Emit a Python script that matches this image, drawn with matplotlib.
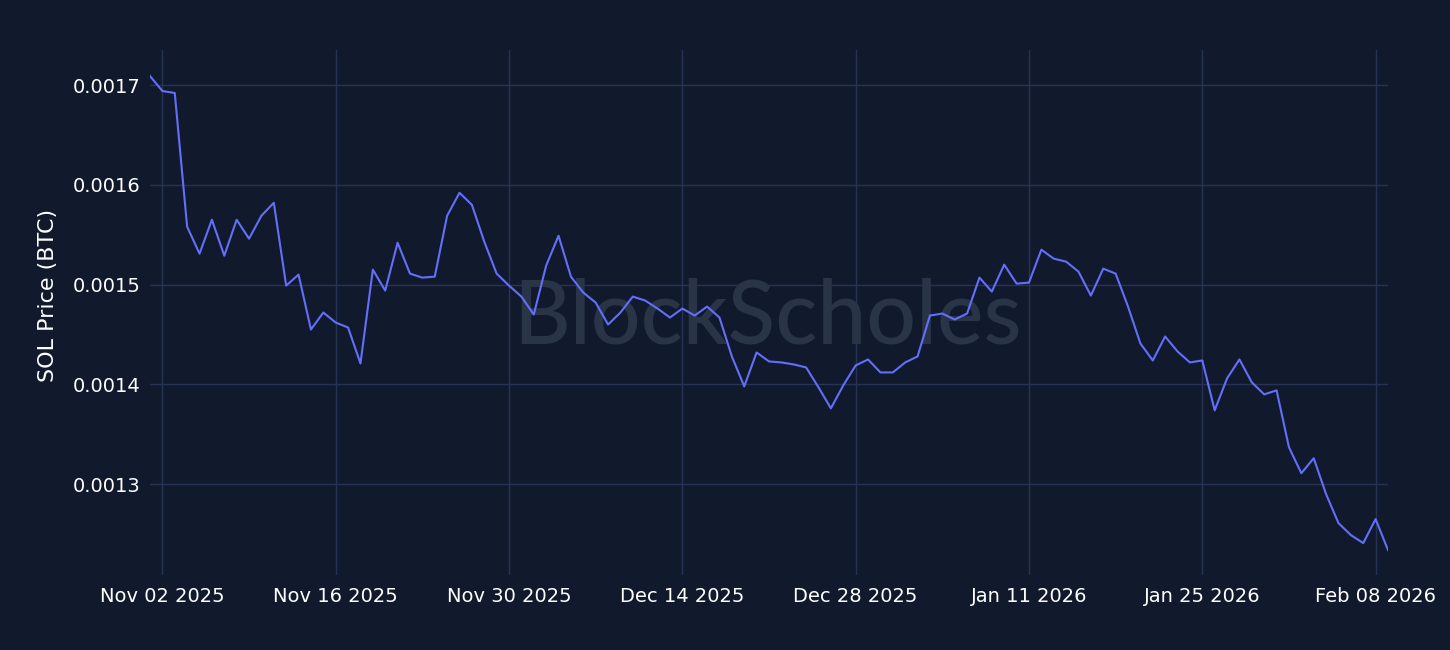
import matplotlib
matplotlib.use("Agg")
import matplotlib.pyplot as plt
import matplotlib.dates as mdates
import numpy as np
import pandas as pd

start_date = "2025-11-01"
sol_btc = [
    0.001709, 0.001694, 0.001692, 0.001558, 0.001531, 0.001565, 0.001529, 0.001565,
    0.001546, 0.001569, 0.001582, 0.001499, 0.001510, 0.001455, 0.001472, 0.001462,
    0.001457, 0.001421, 0.001515, 0.001494, 0.001542, 0.001511, 0.001507, 0.001508,
    0.001569, 0.001592, 0.001580, 0.001543, 0.001511, 0.001499, 0.001488, 0.001470,
    0.001519, 0.001549, 0.001508, 0.001492, 0.001482, 0.001460, 0.001472, 0.001488,
    0.001484, 0.001476, 0.001467, 0.001476, 0.001469, 0.001478, 0.001467, 0.001428,
    0.001398, 0.001432, 0.001423, 0.001422, 0.001420, 0.001417, 0.001397, 0.001376,
    0.001399, 0.001419, 0.001425, 0.001412, 0.001412, 0.001422, 0.001428, 0.001469,
    0.001471, 0.001465, 0.001471, 0.001507, 0.001493, 0.001520, 0.001501, 0.001502,
    0.001535, 0.001526, 0.001523, 0.001513, 0.001489, 0.001516, 0.001511, 0.001478,
    0.001441, 0.001424, 0.001448, 0.001433, 0.001422, 0.001424, 0.001374, 0.001406,
    0.001425, 0.001402, 0.001390, 0.001394, 0.001337, 0.001311, 0.001326, 0.001290,
    0.001261, 0.001249, 0.001241, 0.001265, 0.001234,
]
dates = pd.date_range(start_date, periods=len(sol_btc), freq="D")

x_tick_dates = ["2025-11-02", "2025-11-16", "2025-11-30", "2025-12-14",
                "2025-12-28", "2026-01-11", "2026-01-25", "2026-02-08"]
y_ticks = [0.0013, 0.0014, 0.0015, 0.0016, 0.0017]
y_tick_labels = ["0.0013", "0.0014", "0.0015", "0.0016", "0.0017"]

BG = "#111a2d"
GRID = "#263352"
LINE = "#636efa"
TXT = "#ffffff"

fig = plt.figure(figsize=(14.5, 6.5), dpi=100, facecolor=BG)
ax = fig.add_axes([150 / 1450, 75 / 650, 1238 / 1450, 525 / 650])
ax.set_facecolor(BG)

ax.plot(dates, sol_btc, color=LINE, linewidth=1.5, zorder=3)

ax.set_xlim(dates[0], dates[-1])
ax.set_ylim(0.001209, 0.0017351)

ax.set_xticks(pd.to_datetime(x_tick_dates))
ax.xaxis.set_major_formatter(mdates.DateFormatter("%b %d %Y"))
ax.set_yticks(y_ticks)
ax.set_yticklabels(y_tick_labels)

ax.grid(True, color=GRID, linewidth=1, zorder=1)
for s in ax.spines.values():
    s.set_visible(False)
ax.tick_params(axis="both", colors=TXT, labelsize=14, length=0)
ax.tick_params(axis="x", pad=9)
ax.tick_params(axis="y", pad=7)
ax.set_ylabel("SOL Price (BTC)", color=TXT, fontsize=16, va="center")
ax.yaxis.set_label_coords(-0.0824, 0.533)

ax.text(0.499, 0.49, "BlockScholes", transform=ax.transAxes, ha="center", va="center",
        fontsize=63, color="#2a3447", family="Lato", fontweight="medium", zorder=2)

fig.savefig("out.png", dpi=100, facecolor=BG)
